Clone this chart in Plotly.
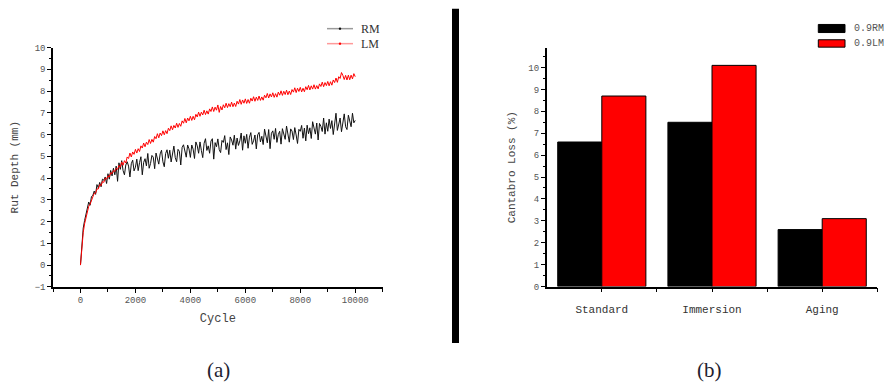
import plotly.graph_objects as go

# ---------------- data: (a) rut depth vs cycle ----------------
cycle = [
    0, 50, 100, 150, 200, 250, 300, 350, 400, 450, 500, 550, 600, 650, 700, 750, 800, 850, 900, 950,
    1000, 1050, 1100, 1150, 1200, 1250, 1300, 1350, 1400, 1450, 1500, 1550, 1600, 1650, 1700, 1750, 1800, 1850, 1900, 1950,
    2000, 2050, 2100, 2150, 2200, 2250, 2300, 2350, 2400, 2450, 2500, 2550, 2600, 2650, 2700, 2750, 2800, 2850, 2900, 2950,
    3000, 3050, 3100, 3150, 3200, 3250, 3300, 3350, 3400, 3450, 3500, 3550, 3600, 3650, 3700, 3750, 3800, 3850, 3900, 3950,
    4000, 4050, 4100, 4150, 4200, 4250, 4300, 4350, 4400, 4450, 4500, 4550, 4600, 4650, 4700, 4750, 4800, 4850, 4900, 4950,
    5000, 5050, 5100, 5150, 5200, 5250, 5300, 5350, 5400, 5450, 5500, 5550, 5600, 5650, 5700, 5750, 5800, 5850, 5900, 5950,
    6000, 6050, 6100, 6150, 6200, 6250, 6300, 6350, 6400, 6450, 6500, 6550, 6600, 6650, 6700, 6750, 6800, 6850, 6900, 6950,
    7000, 7050, 7100, 7150, 7200, 7250, 7300, 7350, 7400, 7450, 7500, 7550, 7600, 7650, 7700, 7750, 7800, 7850, 7900, 7950,
    8000, 8050, 8100, 8150, 8200, 8250, 8300, 8350, 8400, 8450, 8500, 8550, 8600, 8650, 8700, 8750, 8800, 8850, 8900, 8950,
    9000, 9050, 9100, 9150, 9200, 9250, 9300, 9350, 9400, 9450, 9500, 9550, 9600, 9650, 9700, 9750, 9800, 9850, 9900, 9950,
    10000,
]

rut_rm = [
    0.0, 1.15, 1.7, 2.05, 2.35, 2.6, 2.9, 2.75, 3.15, 3.2, 3.4, 3.25, 3.7, 3.55, 3.8, 3.6, 3.95, 3.9, 4.05, 3.75,
    4.2, 3.95, 4.35, 4.1, 4.45, 4.15, 4.55, 3.85, 4.70, 4.40, 4.80, 4.35, 4.15, 4.60, 4.75, 4.55, 4.05, 4.66, 4.82, 4.33,
    4.50, 4.87, 4.34, 4.71, 4.98, 4.15, 4.72, 4.89, 4.56, 5.13, 4.45, 4.67, 5.04, 4.96, 4.43, 5.15, 4.87, 4.64, 5.11, 5.28,
    4.75, 4.52, 5.13, 5.30, 4.91, 5.28, 4.74, 5.11, 5.47, 4.94, 4.75, 5.32, 5.23, 4.60, 5.41, 5.53, 5.14, 4.96, 5.52, 5.34,
    4.95, 5.52, 5.33, 4.90, 5.66, 5.48, 5.14, 5.66, 5.27, 4.94, 5.60, 5.81, 5.27, 5.48, 5.14, 5.70, 5.81, 4.87, 5.63, 5.44,
    5.80, 5.31, 5.17, 5.73, 5.64, 5.95, 5.31, 5.62, 5.08, 5.89, 5.75, 5.51, 5.97, 5.33, 5.84, 5.50, 5.71, 6.07, 5.28, 5.94,
    5.60, 6.01, 5.37, 5.88, 6.09, 5.55, 5.71, 5.98, 5.34, 5.99, 6.10, 5.66, 5.92, 5.54, 6.25, 5.91, 5.62, 6.23, 5.35, 6.06,
    6.17, 5.78, 6.28, 5.64, 6.00, 6.15, 5.56, 6.27, 6.07, 5.78, 6.39, 5.89, 5.65, 6.26, 6.16, 5.77, 6.32, 5.98, 5.59, 6.24,
    6.15, 6.42, 5.83, 6.30, 5.71, 6.43, 6.04, 6.31, 5.82, 6.59, 6.25, 6.02, 6.53, 5.75, 6.51, 6.38, 6.14, 6.76, 6.02, 6.54,
    6.15, 6.71, 6.28, 6.64, 6.00, 6.56, 6.98, 6.19, 6.50, 6.76, 6.13, 6.69, 6.95, 6.36, 6.23, 6.89, 6.65, 6.36, 6.98, 6.54,
    6.65,
]

rut_lm = [
    0.0, 1.0, 1.5, 1.9, 2.2, 2.45, 2.7, 2.8, 3.0, 3.1, 3.3, 3.3, 3.5, 3.5, 3.7, 3.65, 3.85, 3.8, 4.0, 3.95,
    4.1, 4.05, 4.25, 4.2, 4.35, 4.3, 4.45, 4.4, 4.58, 4.5, 4.74, 4.59, 4.8, 4.69, 4.97, 4.9, 5.15, 4.97, 5.2, 5.09,
    5.32, 5.15, 5.35, 5.22, 5.48, 5.38, 5.61, 5.44, 5.65, 5.54, 5.77, 5.59, 5.78, 5.65, 5.91, 5.81, 6.04, 5.85, 6.07, 5.95,
    6.17, 5.99, 6.18, 6.04, 6.29, 6.18, 6.4, 6.22, 6.42, 6.3, 6.52, 6.33, 6.51, 6.38, 6.63, 6.52, 6.74, 6.54, 6.76, 6.63,
    6.84, 6.65, 6.84, 6.68, 6.93, 6.81, 7.03, 6.84, 7.03, 6.9, 7.12, 6.92, 7.09, 6.94, 7.18, 7.06, 7.27, 7.06, 7.26, 7.12,
    7.36, 7.02, 7.29, 7.13, 7.37, 7.23, 7.44, 7.24, 7.42, 7.28, 7.49, 7.28, 7.45, 7.29, 7.53, 7.4, 7.61, 7.39, 7.59, 7.44,
    7.64, 7.43, 7.61, 7.44, 7.67, 7.54, 7.74, 7.53, 7.72, 7.57, 7.77, 7.57, 7.73, 7.58, 7.81, 7.69, 7.89, 7.68, 7.87, 7.73,
    7.92, 7.71, 7.88, 7.72, 7.95, 7.81, 8.01, 7.8, 7.99, 7.84, 8.04, 7.83, 8.0, 7.84, 8.07, 7.95, 8.15, 7.93, 8.13, 7.98,
    8.17, 7.96, 8.13, 7.97, 8.2, 8.06, 8.26, 8.05, 8.24, 8.09, 8.29, 8.09, 8.25, 8.1, 8.33, 8.21, 8.41, 8.2, 8.39, 8.25,
    8.44, 8.24, 8.43, 8.27, 8.51, 8.39, 8.6, 8.4, 8.66, 8.58, 8.85, 8.72, 8.53, 8.72, 8.51, 8.73, 8.52, 8.73, 8.56, 8.8,
    8.66,
]
cycle_ticks = [0, 2000, 4000, 6000, 8000, 10000]
cycle_ticklabels = ["0", "2000", "4000", "6000", "8000", "10000"]
series_a = ["RM", "LM"]

# ---------------- data: (b) Cantabro loss ----------------
conditions = ["Standard", "Immersion", "Aging"]
cond_pos = [0, 1, 2]
loss_rm = [6.6, 7.5, 2.6]
loss_lm = [8.7, 10.1, 3.1]
series_b = ["0.9RM", "0.9LM"]

W, H = 891, 388
def px(x):
    return x / W
def py(y):
    return 1 - y / H

MONO = "Liberation Mono"
TICKC = "#555555"
TITLEC = "#444444"

fig = go.Figure()

fig.add_trace(go.Scatter(x=cycle, y=rut_rm, mode="lines", name=series_a[0],
                         line=dict(color="#111111", width=1), xaxis="x", yaxis="y", showlegend=False))
fig.add_trace(go.Scatter(x=cycle, y=rut_lm, mode="lines", name=series_a[1],
                         line=dict(color="#ff0000", width=1), xaxis="x", yaxis="y", showlegend=False))

fig.add_trace(go.Bar(x=cond_pos, y=loss_rm, name=series_b[0], marker=dict(color="black", line=dict(color="black", width=1)),
                     xaxis="x2", yaxis="y2", showlegend=False, offsetgroup="rm"))
fig.add_trace(go.Bar(x=cond_pos, y=loss_lm, name=series_b[1], marker=dict(color="#ff0000", line=dict(color="black", width=1)),
                     xaxis="x2", yaxis="y2", showlegend=False, offsetgroup="lm"))

axis_common = dict(showgrid=False, zeroline=False, showline=True, linecolor="black", linewidth=1.5,
                   ticks="outside", tickcolor="black", tickwidth=1, ticklen=4,
                   tickfont=dict(family=MONO, size=9, color=TICKC), mirror=False)

fig.update_layout(
    width=W, height=H, margin=dict(l=0, r=0, t=0, b=0),
    paper_bgcolor="white", plot_bgcolor="white",
    barmode="group", bargap=0.2, bargroupgap=0,
    xaxis=dict(domain=[px(53), px(382.7)], range=[-1000, 11000], anchor="y",
               tickvals=cycle_ticks, ticktext=cycle_ticklabels,
               minor=dict(tickvals=[-1000, 1000, 3000, 5000, 7000, 9000, 11000], ticks="outside", ticklen=3, tickcolor="black"),
               title=dict(text="Cycle", font=dict(family=MONO, size=12, color=TITLEC), standoff=8),
               **axis_common),
    yaxis=dict(domain=[py(290.3), py(44.7)], range=[-1, 10], anchor="x", dtick=1,
               minor=dict(dtick=0.5, ticks="outside", ticklen=2, tickcolor="black"),
               title=dict(text="Rut Depth (mm)", font=dict(family=MONO, size=11, color=TITLEC), standoff=14),
               **axis_common),
    xaxis2=dict(domain=[px(546.7), px(877.3)], range=[-0.5, 2.5], anchor="y2",
                tickvals=cond_pos, ticktext=conditions, ticklabelstandoff=8,
                minor=dict(tickvals=[0.5, 1.5, 2.5], ticks="outside", ticklen=4, tickcolor="black"),
                **{**axis_common, "tickfont": dict(family=MONO, size=11, color="#333333")}),
    yaxis2=dict(domain=[py(290), py(45)], range=[0, 10.9], anchor="x2", dtick=1,
                minor=dict(dtick=0.5, ticks="outside", ticklen=2, tickcolor="black"),
                title=dict(text="Cantabro Loss (%)", font=dict(family=MONO, size=11, color=TITLEC), standoff=10),
                **axis_common),
)

# legend for (a): line samples with small dot markers
leg_a = [(series_a[0], "#9a9a9a", "#111111", 25.3), (series_a[1], "#ff9a9a", "#ff0000", 40.7)]
for label, lcol, dcol, yc in leg_a:
    fig.add_shape(type="line", xref="paper", yref="paper", x0=px(327), x1=px(353), y0=py(yc), y1=py(yc),
                  line=dict(color=lcol, width=1.5))
    fig.add_shape(type="circle", xref="paper", yref="paper", x0=px(338.8), x1=px(341.2), y0=py(yc + 1.2), y1=py(yc - 1.2),
                  fillcolor=dcol, line=dict(color=dcol, width=0))
    fig.add_annotation(x=px(359), y=py(yc), xref="paper", yref="paper", text=label,
                       showarrow=False, xanchor="left", yanchor="middle",
                       font=dict(family="Liberation Serif", size=12, color="#333333"))

# legend for (b)
leg_b = [(series_b[0], "black", 21, 29.3), (series_b[1], "#ff0000", 36.7, 44.3)]
for label, col, y0, y1 in leg_b:
    fig.add_shape(type="rect", xref="paper", yref="paper", x0=px(818.3), x1=px(845), y0=py(y1), y1=py(y0),
                  fillcolor=col, line=dict(color="black", width=1))
    fig.add_annotation(x=px(852), y=py((y0 + y1) / 2), xref="paper", yref="paper", text=label,
                       showarrow=False, xanchor="left", yanchor="middle",
                       font=dict(family=MONO, size=10, color="#555555"))

# thick separator
fig.add_shape(type="line", xref="paper", yref="paper", x0=px(455.5), x1=px(455.5), y0=py(348), y1=py(5),
              line=dict(color="black", width=7))

# panel labels
for txt, xc in [("(a)", 218), ("(b)", 709)]:
    fig.add_annotation(x=px(xc), y=py(376), xref="paper", yref="paper", text=txt, showarrow=False,
                       xanchor="center", yanchor="middle",
                       font=dict(family="Liberation Serif", size=21, color="#1e1e30"))

fig.write_html("out.html")
